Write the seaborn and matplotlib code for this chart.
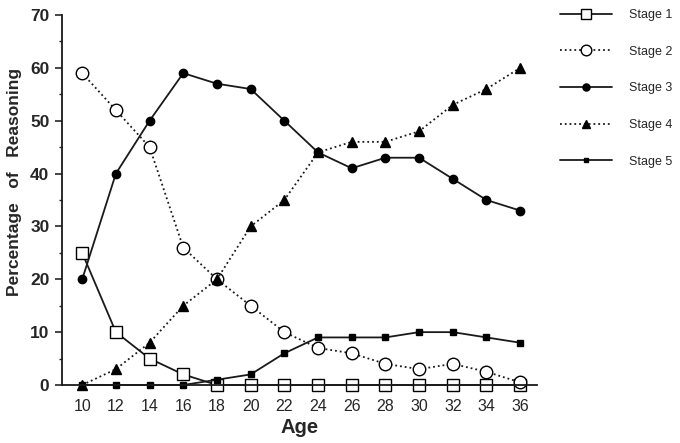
import numpy as np
import pandas as pd
import matplotlib
matplotlib.use("Agg")
import matplotlib.pyplot as plt
import seaborn as sns
from matplotlib.ticker import MultipleLocator

# Data
ages = [10, 12, 14, 16, 18, 20, 22, 24, 26, 28, 30, 32, 34, 36]
stage1 = [25, 10, 5, 2, 0, 0, 0, 0, 0, 0, 0, 0, 0, 0]
stage2 = [59, 52, 45, 26, 20, 15, 10, 7, 6, 4, 3, 4, 2.5, 0.5]
stage3 = [20, 40, 50, 59, 57, 56, 50, 44, 41, 43, 43, 39, 35, 33]
stage4 = [0, 3, 8, 15, 20, 30, 35, 44, 46, 46, 48, 53, 56, 60]
stage5 = [0, 0, 0, 0, 1, 2, 6, 9, 9, 9, 10, 10, 9, 8]

stage_names = ["Stage 1", "Stage 2", "Stage 3", "Stage 4", "Stage 5"]
stage_values = [stage1, stage2, stage3, stage4, stage5]

sns.set_style("ticks")
plt.rcParams["font.family"] = ["Liberation Sans", "DejaVu Sans"]

fig = plt.figure(figsize=(6.8, 4.43), dpi=100)
ax = fig.add_axes([62 / 680, 1 - 385 / 443, 475 / 680, 370 / 443])

# marker, size, face, linestyle
styles = {
    "Stage 1": ("s", 9, "white", "-"),
    "Stage 2": ("o", 9, "white", ":"),
    "Stage 3": ("o", 6, "black", "-"),
    "Stage 4": ("^", 6.5, "black", ":"),
    "Stage 5": ("s", 4, "black", "-"),
}

for name, vals in zip(stage_names, stage_values):
    m, ms, fc, ls = styles[name]
    sns.lineplot(x=ages, y=vals, ax=ax, label=name, color="#1a1a1a",
                 linestyle=ls, linewidth=1.3, marker=m, markersize=ms,
                 markerfacecolor=fc, markeredgecolor="black",
                 markeredgewidth=1.0, clip_on=False)

ax.set_xlim(8.8, 37)
ax.set_ylim(0, 70)
ax.set_xticks(ages)
ax.yaxis.set_major_locator(MultipleLocator(10))
ax.yaxis.set_minor_locator(MultipleLocator(5))
sns.despine(ax=ax)
for s in ["left", "bottom"]:
    ax.spines[s].set_linewidth(1.3)
    ax.spines[s].set_color("#1a1a1a")

ax.tick_params(axis="y", which="major", length=5, width=1.2, labelsize=12.5, pad=4)
ax.tick_params(axis="y", which="minor", length=2.5, width=1.0)
ax.tick_params(axis="x", length=0, labelsize=11.5, pad=10)
for t in ax.get_yticklabels():
    t.set_fontweight("bold")

ax.set_xlabel("Age", fontsize=14.5, fontweight="bold", labelpad=3)
ax.set_ylabel("Percentage   of   Reasoning", fontsize=12.5, fontweight="bold")
ax.yaxis.set_label_coords(-0.085, 0.55)

ax.get_legend().remove()
handles, labels = ax.get_legend_handles_labels()
fig.legend(handles, labels, loc="upper left", bbox_to_anchor=(560 / 680, 1 - 9 / 443),
           frameon=False, fontsize=9, handlelength=4.15, handletextpad=1.4,
           labelspacing=1.97, borderaxespad=0, borderpad=0, markerscale=0.85)

fig.savefig("out.png", dpi=100)
